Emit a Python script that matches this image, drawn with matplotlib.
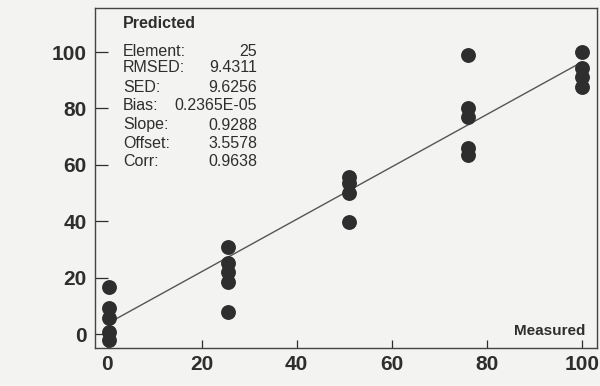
import matplotlib.pyplot as plt
import numpy as np

# measured / predicted values
measured = [0.5, 0.5, 0.5, 0.5, 0.5,
            25.5, 25.5, 25.5, 25.5, 25.5,
            51, 51, 51, 51,
            76, 76, 76, 76, 76,
            100, 100, 100, 100]
predicted = [16.7, 9.2, 5.7, 0.7, -2.1,
             30.9, 25.2, 22.0, 18.4, 7.8,
             55.7, 53.5, 50.0, 39.7,
             99.0, 80.0, 77.0, 66.0, 63.5,
             100.0, 94.3, 91.0, 87.6]

stat_names = ["Element:", "RMSED:", "SED:", "Bias:", "Slope:", "Offset:", "Corr:"]
stat_values = ["25", "9.4311", "9.6256", "0.2365E-05", "0.9288", "3.5578", "0.9638"]
slope = 0.9288
offset = 3.5578

xticks = [0, 20, 40, 60, 80, 100]
yticks = [0, 20, 40, 60, 80, 100]

fam = ['Liberation Sans Narrow', 'Liberation Sans', 'DejaVu Sans']
plt.rcParams['font.family'] = fam
ink = '#2e2e2e'
paper = '#f3f3f1'

fig = plt.figure(figsize=(6, 3.86), dpi=100, facecolor=paper)
ax = fig.add_axes([0.158, 0.098, 0.837, 0.881], facecolor=paper)

ax.scatter(measured, predicted, s=115, color=ink, zorder=3, linewidths=0)
xl = np.array([min(measured), max(measured)])
ax.plot(xl, offset + slope * xl, color='#555555', lw=1.0, zorder=2)

ax.set_xlim(-2.5, 103.2)
ax.set_ylim(-5, 115.6)
ax.set_xticks(xticks)
ax.set_yticks(yticks)
ax.tick_params(axis='both', direction='in', colors=ink, labelsize=15, width=0.9)
ax.tick_params(axis='y', length=9, pad=6)
ax.tick_params(axis='x', length=6, pad=5)
for lab in ax.get_xticklabels() + ax.get_yticklabels():
    lab.set_fontweight('bold')
for sp in ax.spines.values():
    sp.set_color('#444444')
    sp.set_linewidth(1.0)

# stats block in pixel-ish figure coords
def fx(px):
    return px / 600.0

def fy(py):
    return 1 - py / 386.0

fig.text(fx(123), fy(24), "Predicted", fontsize=11.5, color=ink,
         ha='left', va='center', fontweight='bold')
rows = [52, 68, 87, 106, 125, 143, 162]
for name, val, py in zip(stat_names, stat_values, rows):
    fig.text(fx(123), fy(py), name, fontsize=11.5, color=ink, ha='left', va='center')
    fig.text(fx(257), fy(py), val, fontsize=11.5, color=ink, ha='right', va='center')

fig.text(fx(585), fy(331), "Measured", fontsize=11, color=ink, ha='right',
         va='center', fontweight='bold')

fig.savefig('out.png', dpi=100, facecolor=paper)
